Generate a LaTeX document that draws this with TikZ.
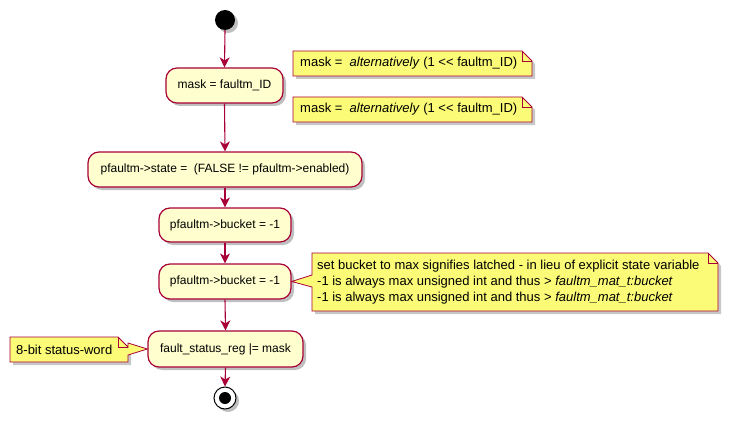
\documentclass[tikz,border=0pt]{standalone}
\usepackage{fontspec}
\setmainfont[Ligatures=TeXOff]{Liberation Sans}
\usetikzlibrary{arrows.meta,shadows}
\definecolor{puml}{HTML}{A80036}
\definecolor{actfill}{HTML}{FEFECE}
\definecolor{notefill}{HTML}{FBFB77}
\tikzset{
  act/.style={draw=puml, fill=actfill, line width=1.2pt, rounded corners=11pt,
    font=\fontsize{12}{14}\selectfont, inner sep=0pt, align=center,
    drop shadow={shadow xshift=3pt, shadow yshift=-3pt, fill=black, opacity=0.25}},
  notetext/.style={font=\fontsize{13}{16}\selectfont, inner sep=0pt, align=left, anchor=west},
  noteline/.style={draw=puml, fill=notefill, line width=0.8pt},
  noteshadow/.style={fill=black, opacity=0.22},
  flow/.style={draw=puml, line width=1.1pt, -{Stealth[length=10pt,width=10pt,inset=3pt]}},
}
\begin{document}
\begin{tikzpicture}[x=1pt,y=-1pt]
\useasboundingbox (0,0) rectangle (730,425);
% start
\fill[black, opacity=0.25] (228,23) circle (10);
\node[circle, fill=black, minimum size=20pt, inner sep=0pt] (start) at (225,20) {};
% activities
\node[act, minimum width=117pt, minimum height=35pt] (a1) at (224.5,85.5) {mask = faultm\_ID};
\node[act, minimum width=274pt, minimum height=35pt] (a2) at (225,169.5) {pfaultm->state =\ \ (FALSE != pfaultm->enabled)};
\node[act, minimum width=132pt, minimum height=34pt] (a3) at (225,225) {pfaultm->bucket = -1};
\node[act, minimum width=132pt, minimum height=35pt] (a4) at (225,281.5) {pfaultm->bucket = -1};
\node[act, minimum width=155pt, minimum height=36pt] (a5) at (225.5,349) {fault\_status\_reg |= mask};
% end
\fill[black, opacity=0.25] (228,401) circle (11);
\node[circle, draw=black, fill=white, line width=1pt, minimum size=22pt, inner sep=0pt] (stop) at (225,398) {};
\fill[black] (stop.center) circle (6);
% flows
\draw[flow] (start.south) -- (a1.north);
\draw[flow] (a1.south) -- (a2.north);
\draw[flow] (a2.south) -- (a3.north);
\draw[flow] (a3.south) -- (a4.north);
\draw[flow] (a4.south) -- (a5.north);
\draw[flow] (a5.south) -- (stop.north);
% note 1
\fill[noteshadow] (296,54) -- (525,54) -- (535,64) -- (535,79) -- (296,79) -- cycle;
\path[noteline] (293,51) -- (522,51) -- (532,61) -- (532,76) -- (293,76) -- cycle;
\draw[draw=puml, line width=0.8pt] (522,51) -- (522,61) -- (532,61);
\node[notetext] (n1) at (300,63.5) {mask =\ \ \textit{alternatively} (1 << faultm\_ID)};
% note 2
\fill[noteshadow] (296,100) -- (525,100) -- (535,110) -- (535,125) -- (296,125) -- cycle;
\path[noteline] (293,97) -- (522,97) -- (532,107) -- (532,122) -- (293,122) -- cycle;
\draw[draw=puml, line width=0.8pt] (522,97) -- (522,107) -- (532,107);
\node[notetext] (n2) at (300,109.5) {mask =\ \ \textit{alternatively} (1 << faultm\_ID)};
% note 3
\fill[noteshadow] (315,256) -- (711,256) -- (721,266) -- (721,314) -- (315,314) -- cycle;
\path[noteline] (312,253) -- (708,253) -- (718,263) -- (718,311) -- (312,311) -- (312,287) -- (a4.east) -- (312,275) -- cycle;
\draw[draw=puml, line width=0.8pt] (708,253) -- (708,263) -- (718,263);
\node[notetext] (n3) at (317,282) {set bucket to max signifies latched - in lieu of explicit state variable\\
-1 is always max unsigned int and thus > \textit{faultm\_mat\_t:bucket}\\
-1 is always max unsigned int and thus > \textit{faultm\_mat\_t:bucket}};
% note 4
\fill[noteshadow] (13,340) -- (121,340) -- (131,350) -- (131,365) -- (13,365) -- cycle;
\path[noteline] (10,337) -- (118,337) -- (128,347) -- (128,343) -- (a5.west) -- (128,355) -- (128,362) -- (10,362) -- cycle;
\draw[draw=puml, line width=0.8pt] (118,337) -- (118,347) -- (128,347);
\node[notetext] (n4) at (16,349.5) {8-bit status-word};
\end{tikzpicture}
\end{document}
